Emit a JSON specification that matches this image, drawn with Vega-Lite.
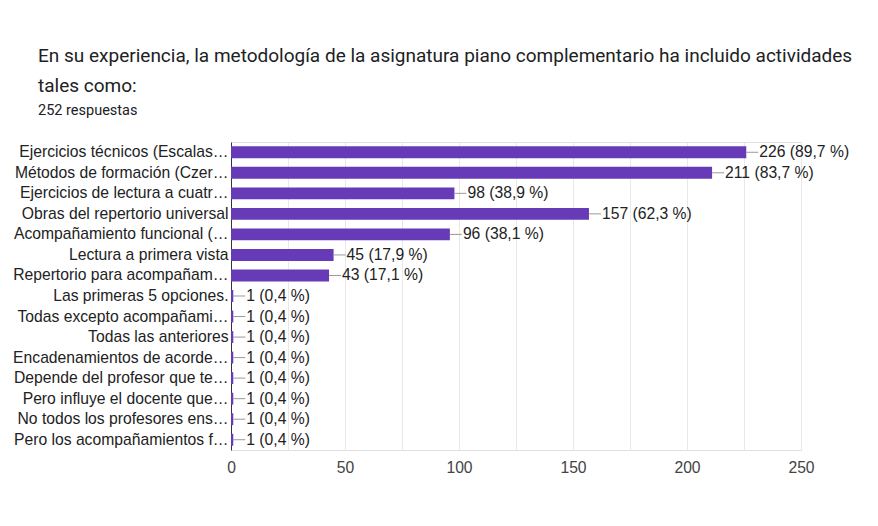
{
  "$schema": "https://vega.github.io/schema/vega-lite/v6.json",
  "autosize": "none",
  "width": 570,
  "height": 308,
  "padding": {"left": 231, "top": 142, "right": 77, "bottom": 76},
  "background": "white",
  "title": {
    "text": ["En su experiencia, la metodología de la asignatura piano complementario ha incluido actividades", "tales como:"],
    "subtitle": "252 respuestas",
    "anchor": "start",
    "frame": "group",
    "dx": -193,
    "offset": 25,
    "font": "Roboto",
    "fontSize": 19,
    "fontWeight": "normal",
    "color": "#202124",
    "lineHeight": 30,
    "subtitleFont": "Roboto",
    "subtitleFontSize": 14.5,
    "subtitleColor": "#202124",
    "subtitlePadding": 8
  },
  "data": {
    "values": [
      {"opcion": "Ejercicios técnicos (Escalas…", "n": 226, "etiqueta": "226 (89,7 %)"},
      {"opcion": "Métodos de formación (Czer…", "n": 211, "etiqueta": "211 (83,7 %)"},
      {"opcion": "Ejercicios de lectura a cuatr…", "n": 98, "etiqueta": "98 (38,9 %)"},
      {"opcion": "Obras del repertorio universal", "n": 157, "etiqueta": "157 (62,3 %)"},
      {"opcion": "Acompañamiento funcional (…", "n": 96, "etiqueta": "96 (38,1 %)"},
      {"opcion": "Lectura a primera vista", "n": 45, "etiqueta": "45 (17,9 %)"},
      {"opcion": "Repertorio para acompañam…", "n": 43, "etiqueta": "43 (17,1 %)"},
      {"opcion": "Las primeras 5 opciones.", "n": 1, "etiqueta": "1 (0,4 %)"},
      {"opcion": "Todas excepto acompañami…", "n": 1, "etiqueta": "1 (0,4 %)"},
      {"opcion": "Todas las anteriores", "n": 1, "etiqueta": "1 (0,4 %)"},
      {"opcion": "Encadenamientos de acorde…", "n": 1, "etiqueta": "1 (0,4 %)"},
      {"opcion": "Depende del profesor que te…", "n": 1, "etiqueta": "1 (0,4 %)"},
      {"opcion": "Pero influye el docente que…", "n": 1, "etiqueta": "1 (0,4 %)"},
      {"opcion": "No todos los profesores ens…", "n": 1, "etiqueta": "1 (0,4 %)"},
      {"opcion": "Pero los acompañamientos f…", "n": 1, "etiqueta": "1 (0,4 %)"}
    ]
  },
  "encoding": {
    "y": {
      "field": "opcion",
      "type": "nominal",
      "sort": null,
      "title": null,
      "scale": {"paddingInner": 0.42, "paddingOuter": 0.21},
      "axis": {
        "ticks": false,
        "domainColor": "#333333",
        "labelFont": "Liberation Sans",
        "labelFontSize": 15.7,
        "labelColor": "#222222",
        "labelPadding": 3,
        "labelLimit": 300
      }
    },
    "x": {
      "field": "n",
      "type": "quantitative",
      "title": null,
      "scale": {"domain": [0, 250], "nice": false},
      "axis": {
        "values": [0, 25, 50, 75, 100, 125, 150, 175, 200, 225, 250],
        "labelExpr": "datum.value % 50 == 0 ? datum.label : ''",
        "labelFlush": false,
        "ticks": false,
        "domain": false,
        "gridColor": "#e8e8e8",
        "labelFont": "Liberation Sans",
        "labelFontSize": 15.7,
        "labelColor": "#444444",
        "labelPadding": 10
      }
    }
  },
  "layer": [
    {"mark": {"type": "bar", "color": "#673ab7"}},
    {
      "mark": {"type": "rule", "color": "#999999", "strokeWidth": 1, "x2Offset": 12},
      "encoding": {"x2": {"field": "n"}}
    },
    {
      "mark": {"type": "text", "align": "left", "baseline": "middle", "dx": 13, "font": "Liberation Sans", "fontSize": 15.7, "color": "#222222"},
      "encoding": {"text": {"field": "etiqueta"}}
    }
  ],
  "config": {"view": {"stroke": "#e0e0e0"}}
}
